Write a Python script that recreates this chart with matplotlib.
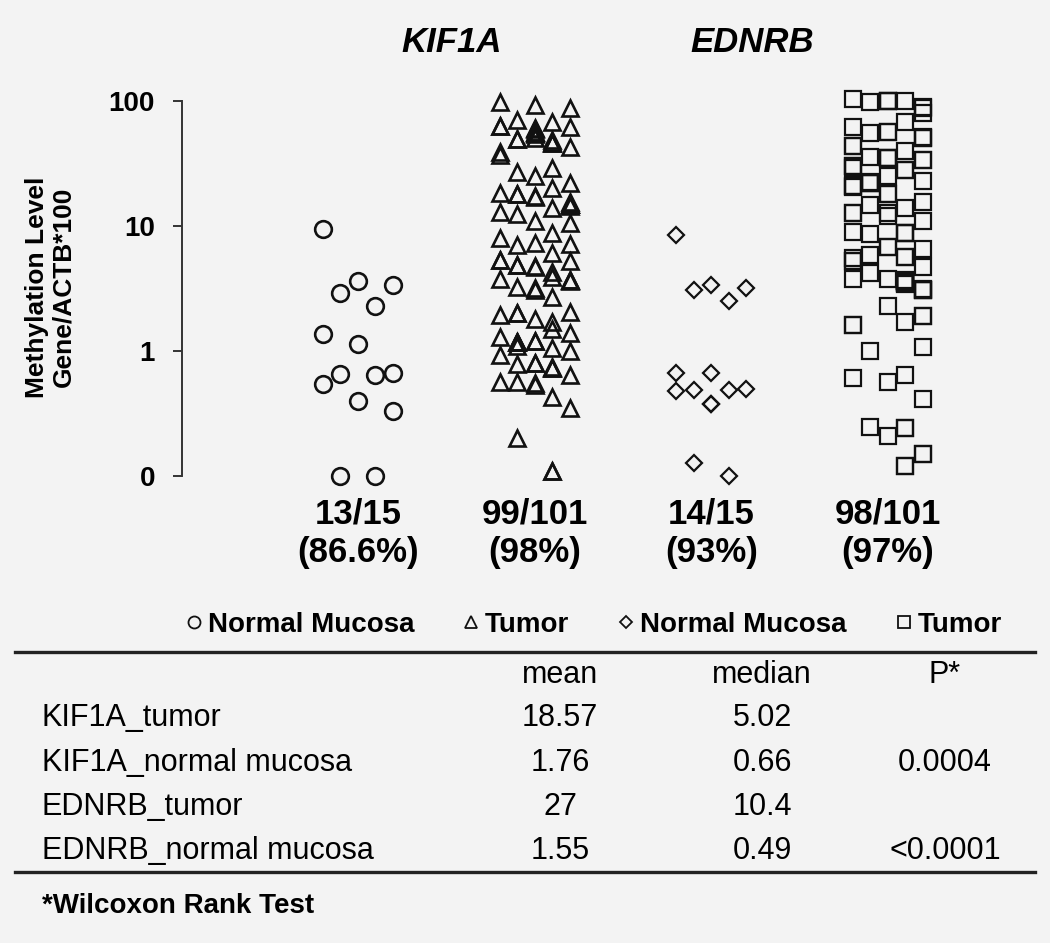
import numpy as np
import matplotlib
matplotlib.use('Agg')
import matplotlib.pyplot as plt
from matplotlib.lines import Line2D

plt.rcParams['font.family'] = ['Liberation Sans', 'DejaVu Sans']

# methylation levels (0 = not detected, drawn on the "0" line);
# in the tumour groups a repeated value sits behind the earlier mark, as in the figure
kif1a_normal = [9.5, 3.6, 3.4, 2.9, 2.3, 1.37, 1.14, 0.67, 0.66, 0.64, 0.54, 0.40, 0.33, 0, 0]
kif1a_tumor = [70, 63, 56, 50, 43, 37, 29, 13, 7.3, 5.2, 3.2, 1.8, 1.4, 1.18, 1.05, 0.93, 0.64,
               0.55, 0.35,
               88, 51, 39, 27, 17, 15.5, 8.8, 7, 5.3, 3.1, 2.7, 2.0, 1.5, 1.2, 0.73, 0.56,
               98, 62, 55, 46, 25, 20, 18, 15, 12.5, 8, 4.7, 3.9, 3.7, 1.7, 1.3, 1.0, 0.74, 0.20,
               61, 47, 22, 18.5, 14.5, 10.5, 4.9, 3.8, 2.05, 1.1, 0.8, 0.53, 0.43, 0.11,
               93, 68, 60, 54, 49, 17.5, 14, 11, 7.2, 6.1, 4.8, 4.3, 3.6, 3.25, 1.95, 1.17, 0.79,
               0.57, 0.11,
               63, 56, 50, 46, 18, 15, 15, 5.3, 4.9, 3.7, 2.0, 1.2, 1.18, 0.8, 0.73]
ednrb_normal = [8.5, 3.4, 3.2, 3.1, 2.5, 0.67, 0.67, 0.50, 0.49, 0.49, 0.48, 0.38, 0.38, 0.127, 0]
ednrb_tumor = [100, 56, 44, 35, 30, 21, 12.7, 8.8, 6.8, 5.2, 3.6, 3.1, 0.57, 0.41, 0.12,
               99.5, 51, 40, 34, 28, 22, 5.6, 3.65, 3.15, 1.9, 1.6, 0.64, 0.24, 0.15,
               104, 89, 80, 51.5, 35.5, 29, 22.5, 18, 15.5, 11, 8.9, 4.2, 3.55, 3.5,
               62, 23, 14.7, 12.6, 6.6, 5.9, 4.7, 3.7, 3.45, 2.3, 1.7, 1.0,
               98.5, 88, 68, 55, 25, 20.5, 14, 12, 8.7, 5.5, 3.8, 3.75, 1.07, 0.61, 0.245, 0.21,
               100, 100, 56, 51, 44, 35, 35, 34, 30, 28, 22, 22, 21, 18, 12.7, 8.8, 8.8, 6.8,
               5.6, 5.2, 3.6, 3.6, 3.5, 3.1, 3.1, 1.9, 1.6, 0.24, 0.15, 0.12]

series = [kif1a_normal, kif1a_tumor, ednrb_normal, ednrb_tumor]
hide_repeats = [False, True, False, True]
legend_labels = ['Normal Mucosa', 'Tumor', 'Normal Mucosa', 'Tumor']
markers = ['o', '^', 'D', 's']
marker_sizes = [12, 12, 8.5, 11.5]
counts = ['13/15\n(86.6%)', '99/101\n(98%)', '14/15\n(93%)', '98/101\n(97%)']
genes = ['KIF1A', 'EDNRB']

yticks = [0.1, 1, 10, 100]
ytick_labels = ['0', '1', '10', '100']

row_labels = ['KIF1A_tumor', 'KIF1A_normal mucosa', 'EDNRB_tumor', 'EDNRB_normal mucosa']
col_labels = ['mean', 'median', 'P*']
means = ['18.57', '1.76', '27', '1.55']
medians = ['5.02', '0.66', '10.4', '0.49']
pvals = ['', '0.0004', '', '<0.0001']

FLOOR = 0.1
BG = '#f3f3f3'
INK = '#111111'


def swarm_cols(vals, hide, n=5, clear=0.14):
    # put each point in a free column; crowded points hide behind a neighbour
    y = np.log10(np.maximum(vals, FLOOR))
    order = np.argsort(-y, kind='stable')
    placed = [[] for _ in range(n)]
    col = np.zeros(len(vals))
    for k, i in enumerate(order):
        prefs = [(k * 2 + j) % n for j in range(n)]
        dist = {c: min((abs(y[i] - p) for p in placed[c]), default=1.0) for c in prefs}
        same = [c for c in prefs if dist[c] == 0]
        free = [c for c in prefs if dist[c] >= clear]
        if hide and same:
            best = same[0]
        elif free:
            best = free[0]
        else:
            best = min(prefs, key=lambda c: dist[c])
        placed[best].append(y[i])
        col[i] = best
    return col - (n - 1) / 2


W, H = 1050, 943
fig = plt.figure(figsize=(W / 100, H / 100), dpi=100, facecolor=BG)
ax = fig.add_axes([182 / W, 1 - 476 / H, (1000 - 182) / W, 375 / H])
ax.set_facecolor('none')

handles = []
for g, (vals, m, ms) in enumerate(zip(series, markers, marker_sizes), start=1):
    vals = np.array(vals, dtype=float)
    x = g + swarm_cols(vals, hide_repeats[g - 1]) * 0.099
    h, = ax.plot(x, np.maximum(vals, FLOOR), ls='none', marker=m, ms=ms,
                 mfc='none', mec=INK, mew=1.9 if m in 'o^' else 1.6, clip_on=False)
    handles.append(h)
    ax.text(g, -0.152, counts[g - 1], transform=ax.get_xaxis_transform(),
            ha='center', va='center', fontsize=25, weight='bold', linespacing=1.2)

ax.set_yscale('log')
ax.set_ylim(FLOOR, 100)
ax.set_xlim(0.004, 4.634)
ax.set_yticks(yticks)
ax.set_yticklabels(ytick_labels)
ax.minorticks_off()
ax.tick_params(axis='y', length=6.5, width=1.4, color='#333333', pad=13,
               labelsize=20)
for lab in ax.get_yticklabels():
    lab.set_fontweight('bold')
ax.set_xticks([])
for s in ['top', 'right', 'bottom']:
    ax.spines[s].set_visible(False)
ax.spines['left'].set_color('#333333')
ax.spines['left'].set_linewidth(1.4)

fig.text(50 / W, 1 - 287 / H, 'Methylation Level\nGene/ACTB*100', fontsize=19,
         weight='bold', rotation=90, ha='center', va='center', multialignment='center',
         linespacing=1.12)

fig.text(452 / W, 1 - 43 / H, genes[0], fontsize=25, weight='bold', style='italic',
         ha='center', va='center')
fig.text(752 / W, 1 - 43 / H, genes[1], fontsize=25, weight='bold', style='italic',
         ha='center', va='center')

leg = fig.legend(handles, legend_labels, loc='center', bbox_to_anchor=(593 / W, 1 - 625 / H),
                 ncol=4, frameon=False, markerscale=0.72, handlelength=0.7, handletextpad=0.15,
                 columnspacing=1.7, prop={'size': 20, 'weight': 'bold'})
for lh in leg.legend_handles:
    lh.set_markeredgewidth(1.3)

# summary table under the plot
for yl in [652, 872]:
    fig.add_artist(Line2D([15 / W, 1035 / W], [1 - yl / H] * 2, color='#222222', lw=2.4))

col_x = [560, 762, 945]
for cx, lab in zip(col_x, col_labels):
    fig.text(cx / W, 1 - 675 / H, lab, fontsize=22, ha='center', va='center')
row_y = [718, 763, 807, 851]
for ry, lab, mn, md, p in zip(row_y, row_labels, means, medians, pvals):
    fig.text(42 / W, 1 - ry / H, lab, fontsize=22, ha='left', va='center')
    for cx, v in zip(col_x, [mn, md, p]):
        fig.text(cx / W, 1 - ry / H, v, fontsize=22, ha='center', va='center')
fig.text(42 / W, 1 - 906 / H, '*Wilcoxon Rank Test', fontsize=20, weight='bold',
         ha='left', va='center')

fig.savefig('out.png', dpi=100, facecolor=BG)
